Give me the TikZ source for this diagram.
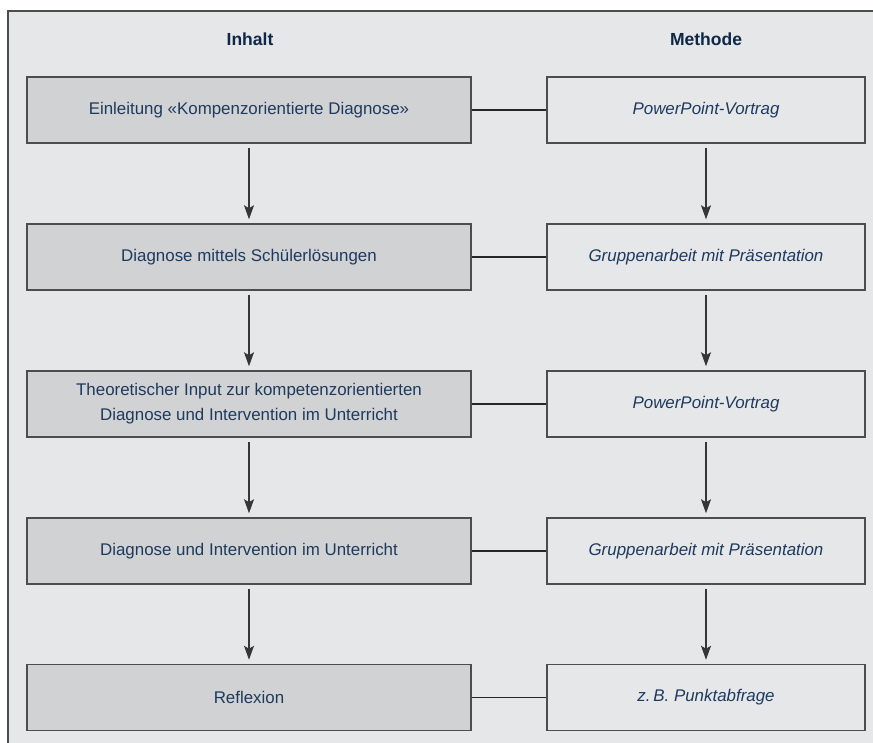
\documentclass[tikz,border=0pt]{standalone}
\usepackage{fontspec}
\setmainfont{Liberation Sans}
\usetikzlibrary{arrows.meta}
\definecolor{bgcol}{HTML}{E6E7E9}
\definecolor{leftfill}{HTML}{D1D2D4}
\definecolor{framecol}{HTML}{4D4D4F}
\definecolor{txtcol}{HTML}{1E3A5E}
\definecolor{headcol}{HTML}{0E2848}
\tikzset{
  inhaltbox/.style={draw=framecol, line width=1.5pt, fill=leftfill, minimum width=444pt, minimum height=66pt, inner sep=0pt, text=txtcol, font=\fontsize{16.9}{25}\selectfont, align=center},
  methodbox/.style={draw=framecol, line width=1.5pt, fill=bgcol, minimum width=318pt, minimum height=66pt, inner sep=0pt, text=txtcol, font=\fontsize{16.9}{25}\selectfont\itshape, align=center},
  header/.style={text=headcol, font=\fontsize{17.5}{20}\selectfont\bfseries},
  flowarrow/.style={draw=framecol!70!black, line width=1.2pt, -{Stealth[length=14pt,width=10pt,inset=3pt]}, shorten <=4pt, shorten >=4pt},
  linkline/.style={draw=black!85, line width=1.1pt}
}
\begin{document}
\begin{tikzpicture}[x=1pt,y=-1pt]
\useasboundingbox (0,0) rectangle (873,743);
\fill[white] (0,0) rectangle (873,743);
\fill[bgcol] (8,11) rectangle (873,743);
\draw[framecol, line width=1.3pt] (8,743) -- (8,11) -- (873,11);

\node[header] (h1) at (250,39) {Inhalt};
\node[header] (h2) at (706,39) {Methode};

\node[inhaltbox] (l1) at (249,110) {Einleitung «Kompenzorientierte Diagnose»};
\node[inhaltbox] (l2) at (249,257) {Diagnose mittels Schülerlösungen};
\node[inhaltbox] (l3) at (249,404) {Theoretischer Input zur kompetenzorientierten\\Diagnose und Intervention im Unterricht};
\node[inhaltbox] (l4) at (249,551) {Diagnose und Intervention im Unterricht};
\node[inhaltbox] (l5) at (249,697.5) {Reflexion};

\node[methodbox] (r1) at (706,110) {PowerPoint-Vortrag};
\node[methodbox] (r2) at (706,257) {Gruppenarbeit mit Präsentation};
\node[methodbox] (r3) at (706,404) {PowerPoint-Vortrag};
\node[methodbox] (r4) at (706,551) {Gruppenarbeit mit Präsentation};
\node[methodbox] (r5) at (706,697.5) {z.\,B. Punktabfrage};

\foreach \i in {1,...,5}{
  \draw[linkline] (l\i.east) -- (r\i.west);
}
\foreach \i/\j in {1/2,2/3,3/4,4/5}{
  \draw[flowarrow] (l\i.south) -- (l\j.north);
  \draw[flowarrow] (r\i.south) -- (r\j.north);
}
\end{tikzpicture}
\end{document}
